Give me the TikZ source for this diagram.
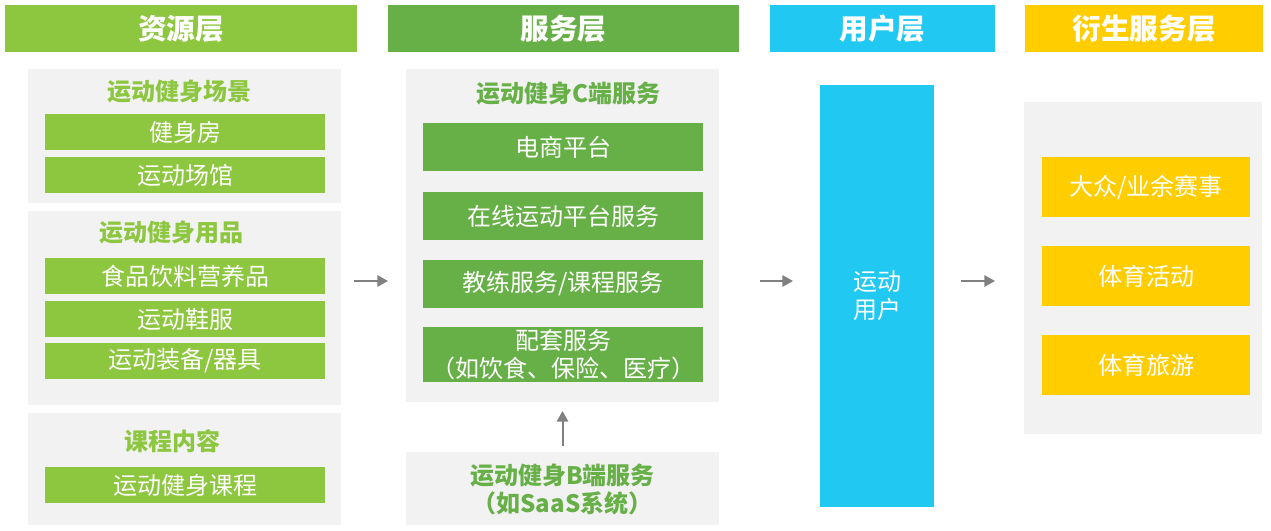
\documentclass[tikz,border=0pt]{standalone}
\usepackage{fontspec}
\setmainfont{Noto Sans CJK SC}
\usetikzlibrary{arrows.meta}
\definecolor{rgreen}{HTML}{8DC63F}
\definecolor{sgreen}{HTML}{67B047}
\definecolor{ucyan}{HTML}{20C8F2}
\definecolor{dyellow}{HTML}{FFCD00}
\definecolor{panel}{HTML}{F2F2F2}
\definecolor{arrgray}{HTML}{808080}
\tikzset{
  blk/.style={inner sep=0pt, outer sep=0pt, align=center},
  header/.style={blk, text=white, font=\fontsize{21.5}{25}\selectfont\bfseries, minimum height=47*0.75pt},
  panelbox/.style={blk, fill=panel},
  ritem/.style={blk, fill=rgreen, text=white, font=\fontsize{18}{21}\selectfont, minimum width=280*0.75pt, minimum height=36*0.75pt},
  sitem/.style={blk, fill=sgreen, text=white, font=\fontsize{18}{21}\selectfont, minimum width=280*0.75pt, minimum height=48*0.75pt},
  ditem/.style={blk, fill=dyellow, text=white, font=\fontsize{18}{21}\selectfont, minimum width=208*0.75pt, minimum height=60*0.75pt},
  rtitle/.style={blk, text=rgreen, font=\fontsize{18}{21}\selectfont\bfseries},
  stitle/.style={blk, text=sgreen, font=\fontsize{18}{21}\selectfont\bfseries},
  arr/.style={draw=arrgray, line width=1.5pt, -{Triangle[length=8pt,width=8.5pt]}}
}
\begin{document}
\begin{tikzpicture}[x=0.75pt,y=-0.75pt]
\useasboundingbox (0,0) rectangle (1271,531);
% headers
\node[header, fill=rgreen, minimum width=352*0.75pt] (h1) at (181,28.5) {资源层};
\node[header, fill=sgreen, minimum width=351*0.75pt] (h2) at (563.5,28.5) {服务层};
\node[header, fill=ucyan, minimum width=225*0.75pt] (h3) at (882.5,28.5) {用户层};
\node[header, fill=dyellow, minimum width=238*0.75pt] (h4) at (1144,28.5) {衍生服务层};
% resource panels
\node[panelbox, minimum width=313*0.75pt, minimum height=134*0.75pt] (rp1) at (184.5,136) {};
\node[panelbox, minimum width=313*0.75pt, minimum height=194*0.75pt] (rp2) at (184.5,308) {};
\node[panelbox, minimum width=313*0.75pt, minimum height=112*0.75pt] (rp3) at (184.5,469) {};
\node[rtitle] (rt1) at (179.5,92) {运动健身场景};
\node[ritem] (r1) at (185,132) {健身房};
\node[ritem] (r2) at (185,175) {运动场馆};
\node[rtitle] (rt2) at (171.5,233) {运动健身用品};
\node[ritem] (r3) at (185,276) {食品饮料营养品};
\node[ritem] (r4) at (185,319) {运动鞋服};
\node[ritem] (r5) at (185,361) {运动装备/器具};
\node[rtitle] (rt3) at (172,441) {课程内容};
\node[ritem] (r6) at (185,485) {运动健身课程};
% service panel
\node[panelbox, minimum width=313*0.75pt, minimum height=333*0.75pt] (sp) at (562.5,235.5) {};
\node[stitle] (st) at (568,94) {运动健身C端服务};
\node[sitem] (s1) at (563,147) {电商平台};
\node[sitem] (s2) at (563,216) {在线运动平台服务};
\node[sitem] (s3) at (563,284) {教练服务/课程服务};
\node[sitem, minimum height=55*0.75pt] (s4) at (563,354.5) {配套服务\\（如饮食、保险、医疗）};
\node[panelbox, minimum width=313*0.75pt, minimum height=73*0.75pt] (bp) at (562.5,488.5) {};
\node[stitle] (bt) at (562.5,489) {运动健身B端服务\\（如SaaS系统）};
% user
\node[blk, fill=ucyan, text=white, font=\fontsize{18}{21}\selectfont, minimum width=114*0.75pt, minimum height=421*0.75pt] (u) at (877,296) {运动\\用户};
% derived
\node[panelbox, minimum width=238*0.75pt, minimum height=332*0.75pt] (dp) at (1143,268) {};
\node[ditem] (d1) at (1146,187) {大众/业余赛事};
\node[ditem] (d2) at (1146,276) {体育活动};
\node[ditem] (d3) at (1146,365) {体育旅游};
% arrows
\coordinate (a1s) at (354,281);
\coordinate (a1e) at (388,281);
\coordinate (a2s) at (760,281);
\coordinate (a2e) at (793,281);
\coordinate (a3s) at (961,281);
\coordinate (a3e) at (995,281);
\draw[arr] (a1s) -- (a1e);
\draw[arr] (a2s) -- (a2e);
\draw[arr] (a3s) -- (a3e);
\draw[arr, shorten <=6*0.75pt, shorten >=9*0.75pt] (bp.north) -- (sp.south);
\end{tikzpicture}
\end{document}
